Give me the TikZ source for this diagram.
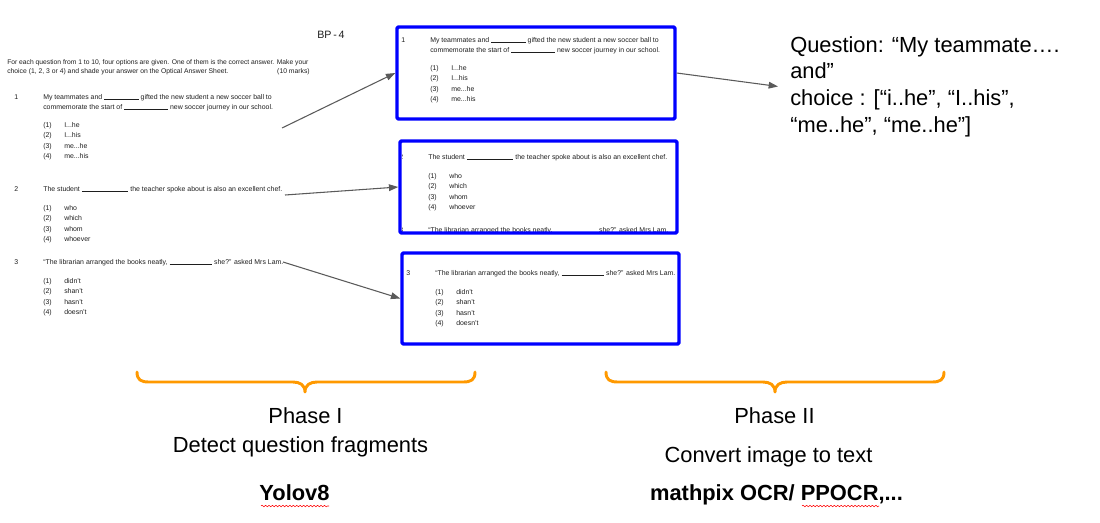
\documentclass[tikz,border=0pt]{standalone}
\usepackage{fontspec}
\setmainfont{Liberation Sans}
\usetikzlibrary{arrows.meta,fit,decorations.pathmorphing}

\definecolor{cropblue}{RGB}{0,0,255}
\definecolor{braceorange}{RGB}{255,153,0}
\definecolor{arrowgray}{RGB}{90,90,90}
\definecolor{scan}{RGB}{30,30,30}

\tikzset{
  sheet/.style={font=\fontsize{5.2}{6}\selectfont, text=scan, inner sep=0pt, anchor=base west},
  cropbox/.style={draw=cropblue, line width=2.6pt, rounded corners=1pt, inner sep=0pt},
  flow/.style={draw=arrowgray, line width=0.8pt, -{Triangle[length=7pt,width=5pt]}},
  phasebrace/.style={draw=braceorange, line width=2.2pt, line cap=round},
  phasetext/.style={font=\fontsize{16.4}{20}\selectfont, inner sep=0pt, anchor=base},
  spellmark/.style={draw=red, line width=0.4pt, decorate, decoration={snake, amplitude=0.6pt, segment length=2.6pt}}
}

\newcommand{\answerblank}[1]{\rule[-0.2pt]{#1}{0.35pt}}
\newcommand{\tdots}{...}

% the scanned exam page, in pixel coordinates
\newcommand{\examsheet}[1]{%
  \node[sheet] (#1-head) at (317,38) {\fontsize{8}{9}\selectfont BP\,-\,4};
  \node[sheet, font=\fontsize{5.05}{6}\selectfont] (#1-intro) at (7,64) {For each question from 1 to 10, four options are given. One of them is the correct answer. Make your};
  \node[sheet, font=\fontsize{5.1}{6}\selectfont] (#1-introb) at (7,73) {choice (1, 2, 3 or 4) and shade your answer on the Optical Answer Sheet.};
  \node[sheet, font=\fontsize{5.1}{6}\selectfont, anchor=base east] (#1-marks) at (310,73) {(10 marks)};
  % question 1
  \node[sheet] (#1-qa) at (14,99) {1};
  \node[sheet] (#1-qa1) at (43,99) {My teammates and \answerblank{26pt} gifted the new student a new soccer ball to};
  \node[sheet] (#1-qa2) at (43,109) {commemorate the start of \answerblank{33pt} new soccer journey in our school.};
  \foreach \opt [count=\i] in {I\tdots he, I\tdots his, me\tdots he, me\tdots his}{
    \node[sheet] (#1-qa-n\i) at (43,116.5+10.5*\i) {(\i)};
    \node[sheet] (#1-qa-o\i) at (64,116.5+10.5*\i) {\opt};
  }
  % question 2
  \node[sheet] (#1-qb) at (14,191) {2};
  \node[sheet] (#1-qb1) at (43,191) {The student \answerblank{35pt} the teacher spoke about is also an excellent chef.};
  \foreach \opt [count=\i] in {who, which, whom, whoever}{
    \node[sheet] (#1-qb-n\i) at (43,199.5+10.5*\i) {(\i)};
    \node[sheet] (#1-qb-o\i) at (64,199.5+10.5*\i) {\opt};
  }
  % question 3
  \node[sheet] (#1-qc) at (14,264) {3};
  \node[sheet] (#1-qc1) at (43,264) {“The librarian arranged the books neatly, \answerblank{32pt} she?” asked Mrs Lam.};
  \foreach \opt [count=\i] in {didn't, shan't, hasn't, doesn't}{
    \node[sheet] (#1-qc-n\i) at (43,272.5+10.5*\i) {(\i)};
    \node[sheet] (#1-qc-o\i) at (64,272.5+10.5*\i) {\opt};
  }
}

\begin{document}
\begin{tikzpicture}[x=0.75pt, y=-0.75pt, line join=round]
  \useasboundingbox (0,0) rectangle (1100,522);

  \examsheet{page}

  % cropped fragments
  \foreach \k/\xa/\ya/\xb/\yb/\dx/\dy in {1/397/27/675/119/387/-57, 2/400/141/677/233/385/-32, 3/402/253/679/344/392/11}{
    \begin{scope}
      \clip (\xa+2,\ya+2) rectangle (\xb-2,\yb-2);
      \begin{scope}[shift={(\dx,\dy)}]
        \examsheet{crop\k}
      \end{scope}
    \end{scope}
    \node[cropbox, fit={(\xa,\ya) (\xb,\yb)}] (crop\k) {};
  }

  \coordinate (pick1) at (282,128);
  \coordinate (pick2) at (285,195);
  \coordinate (pick3) at (283,262);
  \draw[flow] (pick1) -- (crop1.west);
  \draw[flow] (pick2) -- (crop2.west);
  \draw[flow] (pick3) -- (crop3.west);

  \node[font=\fontsize{16.4}{20}\selectfont, align=left, inner sep=0pt, anchor=north west] (answer) at (790,36)
    {Question: “My teammate….\\and”\\choice : [“i..he”, “I..his”,\\“me..he”, “me..he”]};
  \draw[flow] (crop1.east) -- ([xshift=-9pt]answer.west);

  % phases
  \foreach \l/\m/\r in {137/305/475, 606/775/944}
    \draw[phasebrace] (\l,372) .. controls (\l,380) and (\l+4,382) .. (\l+12,382) -- (\m-12,382)
      .. controls (\m-5,382) and (\m,385) .. (\m,392) .. controls (\m,385) and (\m+5,382) .. (\m+12,382)
      -- (\r-12,382) .. controls (\r-4,382) and (\r,380) .. (\r,372);

  \node[phasetext] (phase1) at (305.5,423) {Phase I};
  \node[phasetext] (task1) at (300.5,452) {Detect question fragments};
  \node[phasetext] (tool1) at (294.5,500) {\bfseries Yolov8};
  \node[phasetext] (phase2) at (774.5,423) {Phase II};
  \node[phasetext] (task2) at (768.5,462) {Convert image to text};
  \node[phasetext] (tool2) at (776.5,500) {\bfseries mathpix OCR/ PPOCR,...};
  \draw[spellmark] (261,506) -- (329,506);
  \draw[spellmark] (802,506) -- (879,506);
\end{tikzpicture}
\end{document}
